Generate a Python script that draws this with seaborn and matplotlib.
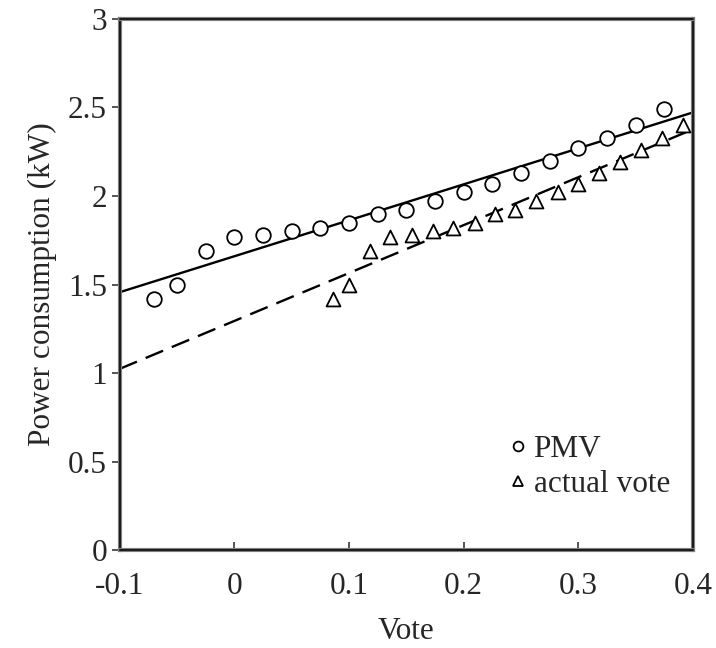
import numpy as np
import pandas as pd
import seaborn as sns
import matplotlib.pyplot as plt
import matplotlib.patheffects as pe
from matplotlib.lines import Line2D

# Mean vote (PMV) vs. air-conditioner power consumption
pmv_vote = [-0.07, -0.05, -0.025, 0.0, 0.025, 0.05, 0.075, 0.1, 0.125, 0.15,
            0.175, 0.2, 0.225, 0.25, 0.275, 0.3, 0.325, 0.35, 0.375]
pmv_power = [1.42, 1.50, 1.69, 1.77, 1.78, 1.80, 1.82, 1.85, 1.90, 1.92,
             1.97, 2.02, 2.07, 2.13, 2.20, 2.27, 2.33, 2.40, 2.49]

# Actual vote vs. power consumption
actual_vote = [0.086, 0.100, 0.118, 0.136, 0.155, 0.173, 0.191, 0.210, 0.227,
               0.245, 0.263, 0.282, 0.300, 0.318, 0.336, 0.355, 0.373, 0.391]
actual_power = [1.42, 1.50, 1.69, 1.77, 1.78, 1.80, 1.82, 1.85, 1.90,
                1.92, 1.97, 2.02, 2.07, 2.13, 2.19, 2.26, 2.33, 2.40]

x_ticks = [-0.1, 0, 0.1, 0.2, 0.3, 0.4]
x_ticklabels = ["-0.1", "0", "0.1", "0.2", "0.3", "0.4"]
y_ticks = [0, 0.5, 1, 1.5, 2, 2.5, 3]
y_ticklabels = ["0", "0.5", "1", "1.5", "2", "2.5", "3"]

pmv_df = pd.DataFrame({"vote": pmv_vote, "power": pmv_power})
act_df = pd.DataFrame({"vote": actual_vote, "power": actual_power})

FS = 22.5

sns.set_style("ticks")
plt.rcParams["font.family"] = ["Liberation Serif", "DejaVu Serif"]
plt.rcParams["font.size"] = FS

fig = plt.figure(figsize=(7.16, 6.48), dpi=100)
ax = fig.add_axes([0.1669, 0.1512, 0.801, 0.8195])
ax.set_xlim(-0.1, 0.4)
ax.set_ylim(0, 3)

# Least-squares trend lines spanning the full axis
sns.regplot(data=pmv_df, x="vote", y="power", ax=ax, scatter=False, ci=None,
            truncate=False, line_kws=dict(color="black", lw=1.7, zorder=2))
sns.regplot(data=act_df, x="vote", y="power", ax=ax, scatter=False, ci=None,
            truncate=False,
            line_kws=dict(color="black", lw=1.7, dashes=(8, 4), zorder=2))

sns.scatterplot(data=pmv_df, x="vote", y="power", ax=ax, marker="o", s=110,
                facecolor="white", edgecolor="black", linewidth=1.3, zorder=3)
sns.scatterplot(data=act_df, x="vote", y="power", ax=ax, marker="^", s=100,
                facecolor="white", edgecolor="black", linewidth=1.3, zorder=3)

ax.set_xlim(-0.1, 0.4)
ax.set_ylim(0, 3)
ax.set_xticks(x_ticks, x_ticklabels)
ax.set_yticks(y_ticks, y_ticklabels)
ax.tick_params(axis="x", direction="in", length=6, width=1.4, color="#555",
               pad=16, labelsize=FS)
ax.tick_params(axis="y", direction="out", length=6, width=1.4, color="#555",
               pad=3, labelsize=FS)
ax.set_xlabel("Vote", fontsize=FS, labelpad=11)
ax.set_ylabel("Power consumption (kW)", fontsize=FS, labelpad=8)

# Frame drawn as a dark line with a grey rim
for sp in ax.spines.values():
    sp.set_visible(True)
    sp.set_color("black")
    sp.set_linewidth(1.1)
    sp.set_path_effects([pe.Stroke(linewidth=3.0, foreground="#808080"),
                         pe.Normal()])

handles = [
    Line2D([], [], ls="", marker="o", ms=7, mfc="white", mec="black", mew=1.3),
    Line2D([], [], ls="", marker="^", ms=7, mfc="white", mec="black", mew=1.3),
]
ax.legend(handles, ["PMV", "actual vote"], loc="center left",
          bbox_to_anchor=(0.681, 0.156), frameon=False, handlelength=0.5,
          handletextpad=0.25, labelspacing=0.2, fontsize=FS,
          borderpad=0, borderaxespad=0)

fig.savefig("out.png", dpi=100)
